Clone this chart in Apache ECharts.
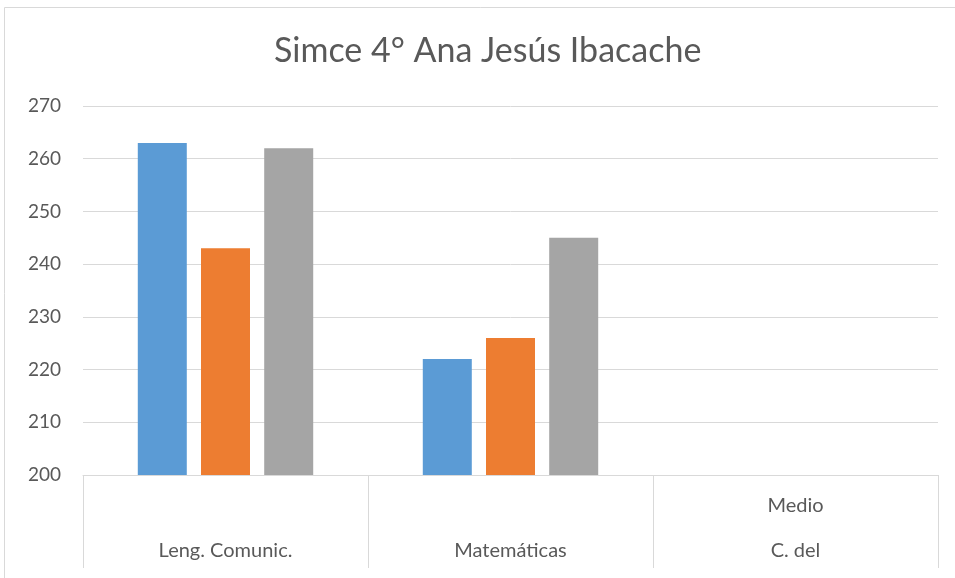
<!DOCTYPE html>
<html>
<head>
<meta charset="utf-8">
<script src="https://cdn.jsdelivr.net/npm/echarts@6/dist/echarts.min.js"></script>
<style>html,body{margin:0;padding:0;background:#fff}#c{width:955px;height:578px}</style>
</head>
<body>
<div id="c"></div>
<script>
var titleText = 'Simce 4° Ana Jesús Ibacache';
var categories = ['Leng. Comunic.', 'Matemáticas', 'Medio\nC. del'];
var serie1 = [263, 222, null];
var serie2 = [243, 226, null];
var serie3 = [262, 245, null];
var yTicks = [200, 210, 220, 230, 240, 250, 260, 270];

var font = "Lato, 'Open Sans', sans-serif";
var chart = echarts.init(document.getElementById('c'), null, {renderer: 'canvas'});
chart.setOption({
  animation: false,
  color: ['#5b9bd5', '#ed7d31', '#a5a5a5'],
  title: {
    text: titleText,
    left: 269,
    top: 29,
    textStyle: {fontFamily: font, fontSize: 34, fontWeight: 'normal', color: '#595959'}
  },
  graphic: [{
    type: 'rect',
    shape: {x: 4.5, y: 7.5, width: 960, height: 600},
    style: {fill: 'none', stroke: '#d9d9d9', lineWidth: 1},
    silent: true, z: -1
  }],
  grid: {left: 83, right: 17, top: 106, bottom: 103, outerBoundsMode: 'none', containLabel: false},
  xAxis: {
    type: 'category',
    data: categories,
    axisLine: {show: true, lineStyle: {color: '#d9d9d9', width: 1}},
    axisTick: {show: true, length: 93, interval: 0, alignWithLabel: false, lineStyle: {color: '#d9d9d9'}},
    axisLabel: {
      interval: 0, margin: 8, color: '#595959', fontFamily: font, fontSize: 20, lineHeight: 45,
      formatter: function (v) { return v.indexOf('\n') >= 0 ? v : '\n' + v; }
    }
  },
  yAxis: {
    type: 'value',
    min: yTicks[0], max: yTicks[yTicks.length - 1], interval: 10,
    axisLine: {show: false}, axisTick: {show: false},
    axisLabel: {margin: 22, color: '#595959', fontFamily: font, fontSize: 19},
    splitLine: {lineStyle: {color: '#d9d9d9', width: 1}}
  },
  series: [
    {name: 'Serie 1', type: 'bar', data: serie1, barWidth: 49, barGap: '29%'},
    {name: 'Serie 2', type: 'bar', data: serie2, barWidth: 49, barGap: '29%'},
    {name: 'Serie 3', type: 'bar', data: serie3, barWidth: 49, barGap: '29%'}
  ]
});
</script>
</body>
</html>
